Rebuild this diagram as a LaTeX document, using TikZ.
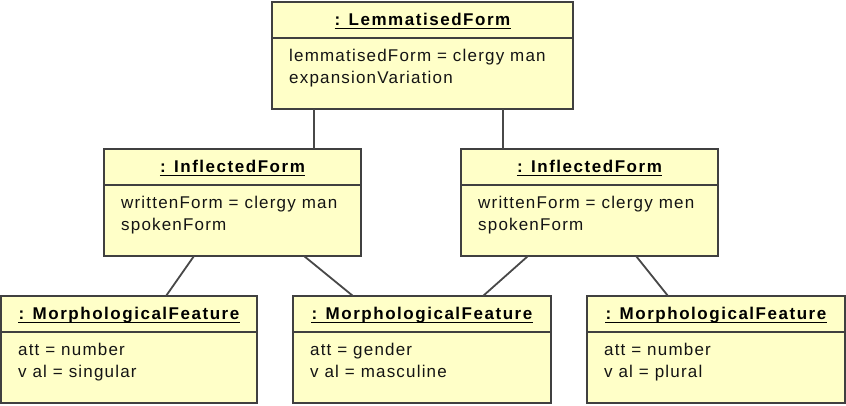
\documentclass[tikz,border=0pt]{standalone}
\usepackage{fontspec}
\newfontfamily\titlefont{Liberation Sans}[LetterSpace=9]
\newfontfamily\attrfont{Liberation Sans}[LetterSpace=7]

\definecolor{objfill}{RGB}{255,255,200}
\definecolor{objline}{RGB}{64,64,64}
\definecolor{linkline}{RGB}{72,72,72}
\definecolor{attrtext}{RGB}{20,20,20}

\tikzset{
  objbox/.style={draw=objline, fill=objfill, line width=2pt, rectangle,
    inner sep=0pt, outer sep=0pt},
  objedge/.style={draw=objline, line width=2pt},
  objtitle/.style={inner sep=0pt, anchor=base,
    font=\titlefont\bfseries\fontsize{17}{20}\selectfont},
  titlerule/.style={draw=black, line width=1.1pt},
  objattr/.style={inner sep=0pt, anchor=base west, text=attrtext,
    font=\attrfont\fontsize{17}{20}\selectfont},
  link/.style={draw=linkline, line width=1.8pt},
}

% #1 name, #2 x, #3 y (top left), #4 width, #5 title, #6 first attribute, #7 second attribute
\newcommand\umlobject[7]{%
  \node[objbox, minimum width=#4pt, minimum height=107pt, anchor=north west] (#1) at (#2,#3) {};
  \draw[objedge] ([yshift=-35.5pt]#1.north west) -- ([yshift=-35.5pt]#1.north east);
  \node[objtitle] (#1-title) at ([yshift=-23.5pt]#1.north) {#5};
  \draw[titlerule] ([yshift=-2.6pt]#1-title.base west) -- ([yshift=-2.6pt]#1-title.base east);
  \node[objattr] (#1-a) at ([xshift=17pt,yshift=-59pt]#1.north west) {#6};
  \node[objattr] (#1-b) at ([xshift=17pt,yshift=-81.5pt]#1.north west) {#7};
}

\begin{document}
\begin{tikzpicture}[x=1pt, y=-1pt]
  \fill[white] (0,0) rectangle (846,405);
  \useasboundingbox (0,0) rectangle (846,405);

  \umlobject{lem}{272}{2}{301}{: LemmatisedForm}{lemmatisedForm = clergy man}{expansionVariation}
  \umlobject{infL}{104}{149}{257}{: InflectedForm}{writtenForm = clergy man}{spokenForm}
  \umlobject{infR}{461}{149}{257}{: InflectedForm}{writtenForm = clergy men}{spokenForm}
  \umlobject{mfL}{1}{296}{256}{: MorphologicalFeature}{att = number}{v al = singular}
  \umlobject{mfM}{293}{296}{258}{: MorphologicalFeature}{att = gender}{v al = masculine}
  \umlobject{mfR}{587}{296}{258}{: MorphologicalFeature}{att = number}{v al = plural}

  % lemmatised form to its inflected forms
  \draw[link] ([xshift=42pt]lem.south west) -- ([xshift=42pt]lem.south west |- infL.north);
  \draw[link] ([xshift=231pt]lem.south west) -- ([xshift=231pt]lem.south west |- infR.north);

  % inflected forms to their morphological features
  \draw[link] ([xshift=90pt]infL.south west) -- ([xshift=165pt]mfL.north west);
  \draw[link] ([xshift=200pt]infL.south west) -- ([xshift=60pt]mfM.north west);
  \draw[link] ([xshift=67pt]infR.south west) -- ([xshift=190pt]mfM.north west);
  \draw[link] ([xshift=175pt]infR.south west) -- ([xshift=81pt]mfR.north west);
\end{tikzpicture}
\end{document}
